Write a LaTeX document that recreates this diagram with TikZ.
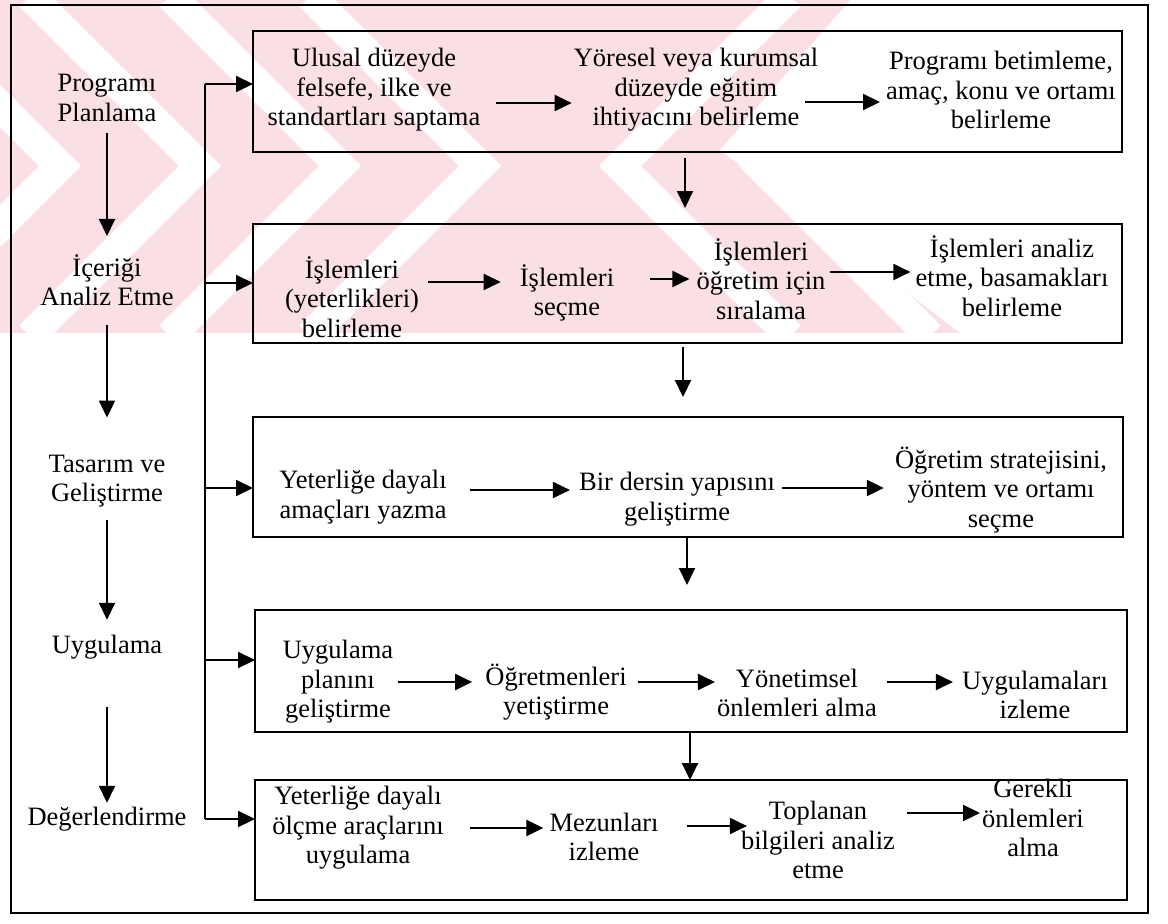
\documentclass[tikz,border=0pt]{standalone}
\usepackage{fontspec}
\setmainfont{Liberation Serif}
\usetikzlibrary{arrows.meta}
\definecolor{wmpink}{RGB}{250,224,228}
\begin{document}
\begin{tikzpicture}[x=1pt,y=-1pt,
  txt/.style={align=center,inner sep=2pt,font=\fontsize{26.5pt}{29.5pt}\selectfont},
  rowbox/.style={draw,line width=2.1pt,anchor=north west,inner sep=0pt,outer sep=0pt},
  conn/.style={line width=2.1pt},
  arr/.style={conn,-{Triangle[length=17pt,width=16pt]}},
]
\useasboundingbox (0,0) rectangle (1168,924);

% faint pink chevron mark across the upper part
\begin{scope}
  \clip (0,0) -- (850,0) -- (720,150) -- (960,333) -- (0,333) -- cycle;
  \fill[wmpink] (0,0) rectangle (960,333);
  \foreach \a in {60,200,340,480}
    \draw[white,line width=30pt] (\a-170,-4) -- (\a,166) -- (\a-170,336);
  \foreach \a in {620,760,900}
    \draw[white,line width=30pt] (\a+170,-4) -- (\a,166) -- (\a+170,336);
\end{scope}

% outer frame
\draw[conn] (11,5) rectangle (1148,913);

% row boxes
\node[rowbox,minimum width=869pt,minimum height=121pt] (r1) at (253,31) {};
\node[rowbox,minimum width=869pt,minimum height=119pt] (r2) at (253,224) {};
\node[rowbox,minimum width=870pt,minimum height=120pt] (r3) at (253,417) {};
\node[rowbox,minimum width=872pt,minimum height=122pt] (r4) at (255,610) {};
\node[rowbox,minimum width=872pt,minimum height=120pt] (r5) at (255,780) {};

% stage labels
\node[txt] (s1) at (107,98)  {Programı\\Planlama};
\node[txt] (s2) at (107,280) {İçeriği\\Analiz Etme};
\node[txt] (s3) at (107,481) {Tasarım ve\\Geliştirme};
\node[txt] (s4) at (107,647) {Uygulama};
\node[txt] (s5) at (107,819) {Değerlendirme};

\draw[arr,shorten <=9pt,shorten >=16pt] (s1) -- (s2);
\draw[arr,shorten <=17pt,shorten >=35pt] (s2) -- (s3);
\draw[arr,shorten <=11pt,shorten >=13pt] (s3) -- (s4);
\draw[arr,shorten <=46pt,shorten >=2pt] (s4) -- (s5);

% distribution bus
\coordinate (b1) at (205,84);
\coordinate (b2) at (205,283);
\coordinate (b3) at (205,488);
\coordinate (b4) at (205,660);
\coordinate (b5) at (205,819);
\draw[conn] (b1) -- (b5);
\draw[arr] (b1) -- (b1 -| r1.west);
\draw[arr] (b2) -- (b2 -| r2.west);
\draw[arr] (b3) -- (b3 -| r3.west);
\draw[arr] (b4) -- (b4 -| r4.west);
\draw[arr] (b5) -- (b5 -| r5.west);

% row 1
\node[txt] (u1) at (374,90)  {Ulusal düzeyde\\felsefe, ilke ve\\standartları saptama};
\node[txt] (u2) at (696,90)  {Yöresel veya kurumsal\\düzeyde eğitim\\ihtiyacını belirleme};
\node[txt] (u3) at (1001,90) {Programı betimleme,\\amaç, konu ve ortamı\\belirleme};
\coordinate (u1a) at (496,103);
\coordinate (u2a) at (805,102);
\draw[arr] (u1a) -- (u2.west |- u1a);
\draw[arr,shorten >=4pt] (u2a) -- (u3.west |- u2a);

% row 2
\node[txt] (i1) at (352,297)  {İşlemleri\\(yeterlikleri)\\belirleme};
\node[txt] (i2) at (567,293)  {İşlemleri\\seçme};
\node[txt] (i3) at (761,279)  {İşlemleri\\öğretim için\\sıralama};
\node[txt] (i4) at (1012,276) {İşlemleri analiz\\etme, basamakları\\belirleme};
\coordinate (i1a) at (428,282);
\coordinate (i2a) at (650,279);
\coordinate (i3a) at (830,272);
\draw[arr,shorten >=17pt] (i1a) -- (i2.west |- i1a);
\draw[arr,shorten >=5pt] (i2a) -- (i3.west |- i2a);
\draw[arr,shorten >=3pt] (i3a) -- (i4.west |- i3a);

% row 3
\node[txt] (y1) at (363,497)  {Yeterliğe dayalı\\amaçları yazma};
\node[txt] (y2) at (677,499)  {Bir dersin yapısını\\geliştirme};
\node[txt] (y3) at (1001,490) {Öğretim stratejisini,\\yöntem ve ortamı\\seçme};
\coordinate (y1a) at (470,490);
\coordinate (y2a) at (782,488);
\draw[arr,shorten >=7pt] (y1a) -- (y2.west |- y1a);
\draw[arr,shorten >=9pt] (y2a) -- (y3.west |- y2a);

% row 4
\node[txt] (g1) at (338,682)  {Uygulama\\planını\\geliştirme};
\node[txt] (g2) at (556,692)  {Öğretmenleri\\yetiştirme};
\node[txt] (g3) at (797,693)  {Yönetimsel\\önlemleri alma};
\node[txt] (g4) at (1035,695) {Uygulamaları\\izleme};
\coordinate (g1a) at (398,682);
\coordinate (g2a) at (638,682);
\coordinate (g3a) at (887,682);
\draw[arr,shorten >=11pt] (g1a) -- (g2.west |- g1a);
\draw[arr] (g2a) -- (g3.west |- g2a);
\draw[arr,shorten >=7pt] (g3a) -- (g4.west |- g3a);

% row 5
\node[txt] (e1) at (358,828)  {Yeterliğe dayalı\\ölçme araçlarını\\uygulama};
\node[txt] (e2) at (604,837)  {Mezunları\\izleme};
\node[txt] (e3) at (818,840)  {Toplanan\\bilgileri analiz\\etme};
\node[txt] (e4) at (1033,818) {Gerekli\\önlemleri\\alma};
\coordinate (e1a) at (470,828);
\coordinate (e2a) at (687,826);
\coordinate (e3a) at (907,813);
\draw[arr,shorten >=4pt] (e1a) -- (e2.west |- e1a);
\draw[arr,shorten >=-8pt] (e2a) -- (e3.west |- e2a);
\draw[arr] (e3a) -- (e4.west |- e3a);

% flow between the rows
\draw[arr,shorten <=6pt,shorten >=16pt] (r1.south -| 685,0) -- (r2.north -| 685,0);
\draw[arr,shorten <=4pt,shorten >=20pt] (r2.south -| 683,0) -- (r3.north -| 683,0);
\draw[arr,shorten >=25pt] (r3.south -| 687,0) -- (r4.north -| 687,0);
\draw[arr] (r4.south -| 690,0) -- (r5.north -| 690,0);
\end{tikzpicture}
\end{document}
